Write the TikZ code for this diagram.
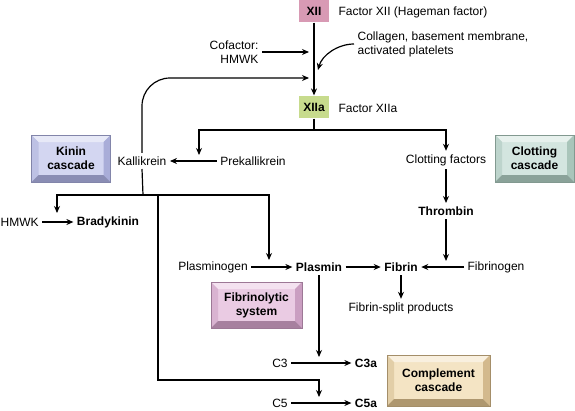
\documentclass[tikz,border=0pt]{standalone}
\usepackage{fontspec}
\setmainfont{Liberation Sans}
\setsansfont{Liberation Sans}
\usetikzlibrary{arrows.meta, calc}

\definecolor{xiipink}{HTML}{D89AB4}
\definecolor{xiiagreen}{HTML}{C7DB8D}
\definecolor{kininface}{HTML}{D3D6F1}
\definecolor{kininedge}{HTML}{A2A6D4}
\definecolor{clotface}{HTML}{D3E5DF}
\definecolor{clotedge}{HTML}{A2BFB4}
\definecolor{fibface}{HTML}{EACBE3}
\definecolor{fibedge}{HTML}{C496BB}
\definecolor{compface}{HTML}{F4E4C4}
\definecolor{compedge}{HTML}{CDB283}

\tikzset{
  arr/.style={-{Stealth[length=7pt, width=6pt]}},
  bold/.style={font=\sffamily\fontsize{12}{14}\selectfont\bfseries},
  factor/.style={bold, fill=#1, minimum width=30pt, minimum height=22pt, inner sep=0pt},
  cascade/.style 2 args={bold, fill=#1, draw=#2!80!black, line width=0.5pt, align=center,
    path picture={
      \coordinate (bnw) at (path picture bounding box.north west);
      \coordinate (bne) at (path picture bounding box.north east);
      \coordinate (bsw) at (path picture bounding box.south west);
      \coordinate (bse) at (path picture bounding box.south east);
      \fill[#1!55!white] (bnw) -- (bne) -- ([xshift=-7pt, yshift=-7pt]bne) -- ([xshift=7pt, yshift=-7pt]bnw) -- cycle;
      \fill[#2!45!#1] (bnw) -- (bsw) -- ([xshift=7pt, yshift=7pt]bsw) -- ([xshift=7pt, yshift=-7pt]bnw) -- cycle;
      \fill[#2!85!#1] (bne) -- (bse) -- ([xshift=-7pt, yshift=7pt]bse) -- ([xshift=-7pt, yshift=-7pt]bne) -- cycle;
      \fill[#2!85!black] (bsw) -- (bse) -- ([xshift=-7pt, yshift=7pt]bse) -- ([xshift=7pt, yshift=7pt]bsw) -- cycle;
    }}
}

\begin{document}
\begin{tikzpicture}[x=1pt, y=-1pt, line width=1.2pt, inner sep=3pt,
  font=\sffamily\fontsize{12}{14}\selectfont]

% Picture size
\useasboundingbox (0, 0) rectangle (575, 410);

% Factor XII and its activation
\node[factor=xiipink] (xii) at (314, 11) {XII};
\node[anchor=west] (xiitext) at (335, 12) {Factor XII (Hageman factor)};
\node[factor=xiiagreen] (xiia) at (314, 107) {XIIa};
\node[anchor=west] (xiiatext) at (335, 108) {Factor XIIa};
\draw[arr] (xii.south) -- (xiia.north);

\node[anchor=east, align=right] (cofactor) at (262, 52) {Cofactor:\\HMWK};
\coordinate (cofin) at (309, 52);
\draw[arr] (cofactor.east) -- (cofin);

\node[anchor=west, align=left] (collagen) at (354, 44) {Collagen, basement membrane,\\activated platelets};
\coordinate (colin) at (318, 70);
\draw[arr] (collagen.west) .. controls (338, 44) and (322, 55) .. (colin);

% Kinin branch
\node (kal) at (142, 161) {Kallikrein};
\node (prekal) at (253, 161) {Prekallikrein};
\node (clotf) at (446, 160) {Clotting factors};
\draw[arr] (prekal.west) -- (kal.east);

\coordinate (fbin) at (309, 78);
\draw[arr, rounded corners=28pt] (kal.north) |- (fbin);

\coordinate (br) at (314, 130);
\coordinate (kalin) at (199, 155);
\draw (xiia.south) -- (br);
\draw[arr] (br) -| (kalin);
\draw[arr] (br) -| (clotf.north);

% Cascade boxes
\node[cascade={kininface}{kininedge}, minimum width=79pt, minimum height=47pt] (kinin) at (71, 158.5) {Kinin\\cascade};
\node[cascade={clotface}{clotedge}, minimum width=79pt, minimum height=47pt] (clotting) at (534.5, 158.5) {Clotting\\cascade};
\node[cascade={fibface}{fibedge}, minimum width=91pt, minimum height=46pt] (fibrino) at (256.5, 305) {Fibrinolytic\\system};
\node[cascade={compface}{compedge}, minimum width=103pt, minimum height=51pt] (complement) at (438.5, 380.5) {Complement\\cascade};

% Clotting
\node[bold] (thrombin) at (446, 211) {Thrombin};
\draw[arr] (clotf.south) -- (thrombin.north);

\node (plasminogen) at (213, 267) {Plasminogen};
\node[bold] (plasmin) at (319, 267) {Plasmin};
\node[bold] (fibrin) at (401, 267) {Fibrin};
\node (fibrinogen) at (496, 267) {Fibrinogen};
\node (split) at (401, 308) {Fibrin-split products};
\draw[arr] (plasminogen.east) -- (plasmin.west);
\draw[arr] (plasmin.east) -- (fibrin.west);
\draw[arr] (fibrinogen.west) -- (fibrin.east);
\draw[arr] (fibrin.south) -- (split.north);
\coordinate (thrin) at (446, 261);
\draw[arr] (thrombin.south) -- (thrin);

% Bradykinin
\node[anchor=west] (hmwk) at (-3, 222) {HMWK};
\node[bold] (brady) at (108, 222) {Bradykinin};
\draw[arr] (hmwk.east) -- (brady.west);

% Complement
\node (cthree) at (280, 363) {C3};
\node[bold] (cthreea) at (366, 363) {C3a};
\node (cfive) at (280, 403) {C5};
\node[bold] (cfivea) at (366, 403) {C5a};
\draw[arr] (cthree.east) -- (cthreea.west);
\draw[arr] (cfive.east) -- (cfivea.west);
\coordinate (cthreein) at (319, 357);
\draw[arr] (plasmin.south) -- (cthreein);

% Kallikrein targets
\coordinate (kalbr) at (143, 195);
\coordinate (bradyin) at (57, 213);
\coordinate (plasin) at (269, 260);
\coordinate (cfivein) at (319, 397);
\draw (kal.south) -- (kalbr);
\draw[arr] (kalbr) -| (bradyin);
\draw[arr] (kalbr) -| (plasin);
\draw[arr] (158, 195) |- (319, 380) -- (cfivein);

\end{tikzpicture}
\end{document}
